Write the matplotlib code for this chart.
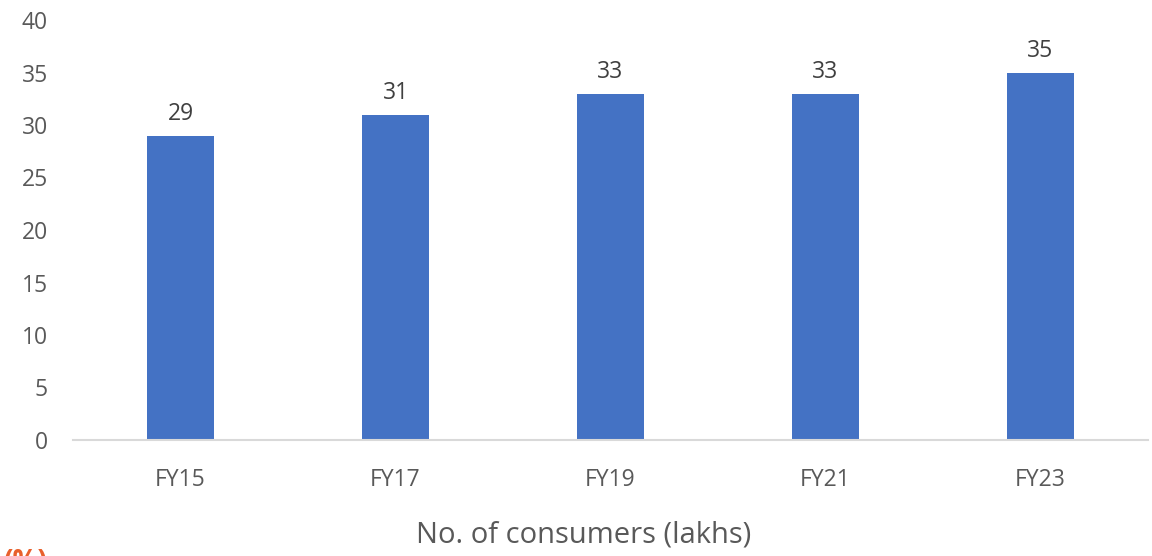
import matplotlib
matplotlib.use("Agg")
import matplotlib.pyplot as plt

categories = ["FY15", "FY17", "FY19", "FY21", "FY23"]
values = [29, 31, 33, 33, 35]
yticks = [0, 5, 10, 15, 20, 25, 30, 35, 40]

plt.rcParams['font.family'] = ['Open Sans', 'DejaVu Sans']

fig = plt.figure(figsize=(11.52, 5.56), dpi=100)
ax = fig.add_axes([73/1152, 116/556, 1075/1152, 420/556])

x = range(len(categories))
bars = ax.bar(x, values, width=0.31, color="#4472C4", zorder=2)
for xi, v in zip(x, values):
    ax.text(xi, v + 0.9, str(v), ha="center", va="bottom", fontsize=16.5, color="#404040")

ax.set_xlim(-0.5, len(categories) - 0.5)
ax.set_ylim(0, 40)
ax.set_yticks(yticks)
ax.set_yticklabels([str(t) for t in yticks])
ax.set_xticks(list(x))
ax.set_xticklabels(categories)
ax.tick_params(axis="both", length=0, labelsize=16.5, colors="#595959")
ax.tick_params(axis="x", pad=20)
ax.tick_params(axis="y", pad=18)
for s in ["top", "right", "left"]:
    ax.spines[s].set_visible(False)
ax.spines["bottom"].set_color("#D9D9D9")
ax.spines["bottom"].set_linewidth(1.5)

fig.text(584/1152, 1 - 535/556, "No. of consumers (lakhs)", ha="center", va="center",
         fontsize=21, color="#595959")
fig.text(4/1152, 1 - 548/556, "(%)", ha="left", va="top", fontsize=20,
         color="#E8602C", fontweight="bold")

fig.savefig("out.png", dpi=100)
